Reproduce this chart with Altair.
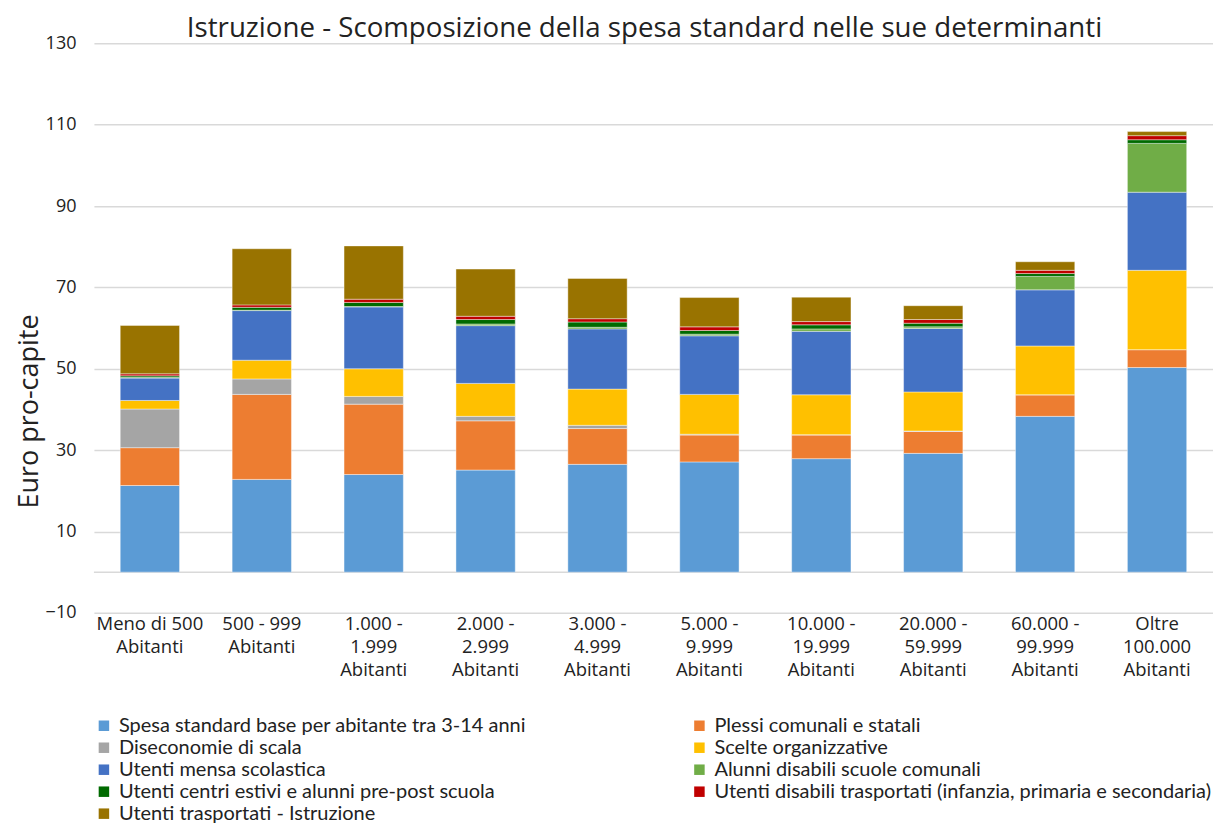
import altair as alt
import pandas as pd

categories = [
    "Meno di 500\nAbitanti", "500 - 999\nAbitanti", "1.000 -\n1.999\nAbitanti",
    "2.000 -\n2.999\nAbitanti", "3.000 -\n4.999\nAbitanti", "5.000 -\n9.999\nAbitanti",
    "10.000 -\n19.999\nAbitanti", "20.000 -\n59.999\nAbitanti", "60.000 -\n99.999\nAbitanti",
    "Oltre\n100.000\nAbitanti",
]

series_names = [
    "Spesa standard base per abitante tra 3-14 anni",
    "Plessi comunali e statali",
    "Diseconomie di scala",
    "Scelte organizzative",
    "Utenti mensa scolastica",
    "Alunni disabili scuole comunali",
    "Utenti centri estivi e alunni pre-post scuola",
    "Utenti disabili trasportati (infanzia, primaria e secondaria)",
    "Utenti trasportati - Istruzione",
]

colors = ["#5B9BD5", "#ED7D31", "#A5A5A5", "#FFC000", "#4472C4",
          "#70AD47", "#006A00", "#C00000", "#997300"]

base = [21.3, 22.8, 24.0, 25.1, 26.5, 27.1, 27.9, 29.2, 38.3, 50.3]
plessi = [9.3, 20.9, 17.3, 12.1, 8.8, 6.6, 5.8, 5.4, 5.3, 4.4]
diseconomie = [9.5, 3.8, 1.9, 1.1, 0.8, 0.2, 0.1, 0.1, 0.0, 0.0]
scelte = [2.1, 4.6, 6.8, 8.1, 8.9, 9.8, 9.8, 9.6, 12.0, 19.5]
mensa = [5.5, 12.2, 15.2, 14.2, 14.8, 14.4, 15.6, 15.6, 13.8, 19.2]
alunni_disabili = [0.15, 0.1, 0.1, 0.4, 0.4, 0.4, 0.6, 0.4, 3.3, 12.0]
centri_estivi = [0.4, 0.7, 1.0, 1.1, 1.3, 0.9, 1.0, 0.9, 0.7, 0.9]
disabili_trasportati = [0.5, 0.6, 0.8, 0.8, 0.8, 0.9, 0.8, 0.9, 0.8, 1.0]
trasportati = [11.9, 13.8, 13.1, 11.6, 9.9, 7.2, 6.0, 3.4, 2.1, 1.0]

y_ticks = [-10, 10, 30, 50, 70, 90, 110, 130]
zero_line = [0]

all_series = [base, plessi, diseconomie, scelte, mensa, alunni_disabili,
              centri_estivi, disabili_trasportati, trasportati]

rows = []
for si, (name, vals) in enumerate(zip(series_names, all_series)):
    for cat, v in zip(categories, vals):
        rows.append({"cat": cat, "serie": name, "val": v, "ord": si})
df = pd.DataFrame(rows)

# legend is filled column by column: order entries so that it reads row by row
legend_order = series_names[0::2] + series_names[1::2]
legend_colors = colors[0::2] + colors[1::2]

FONT = "Open Sans"

bars = alt.Chart(df).mark_bar(stroke="white", strokeWidth=0.6, strokeOpacity=0.7).encode(
    x=alt.X("cat:N", sort=categories,
            scale=alt.Scale(paddingInner=0.47, paddingOuter=0.235),
            axis=alt.Axis(title=None, labelAngle=0, ticks=False, domain=False,
                          labelExpr="split(datum.label, '\\n')",
                          labelFontSize=18.5, labelLineHeight=23, labelPadding=2,
                          labelBaseline="top", labelColor="#222222", labelFont=FONT)),
    y=alt.Y("val:Q", stack="zero",
            scale=alt.Scale(domain=[-10, 130], nice=False, zero=False),
            axis=alt.Axis(title="Euro pro-capite", values=y_ticks, ticks=False, domain=False,
                          gridColor="#D9D9D9", gridWidth=1.5,
                          labelFontSize=18, labelPadding=18, labelColor="#222222",
                          labelFont=FONT, titleFont=FONT, titleFontSize=27,
                          titleFontWeight="normal", titleColor="#222222",
                          titleX=-64, titleY=368, titleBaseline="middle", titleAlign="center")),
    color=alt.Color("serie:N",
                    scale=alt.Scale(domain=legend_order, range=legend_colors),
                    legend=alt.Legend(orient="none", legendX=0, legendY=673, columns=2,
                                      title=None, symbolType="square", symbolSize=110,
                                      symbolStrokeWidth=0, labelFontSize=20, labelFont="Lato",
                                      labelColor="#222222", rowPadding=2, columnPadding=163,
                                      labelLimit=700, labelOffset=5)),
    order=alt.Order("ord:Q", sort="ascending"),
)

zero = alt.Chart(pd.DataFrame({"y": zero_line})).mark_rule(color="#D9D9D9", strokeWidth=1.5).encode(
    y=alt.Y("y:Q")
)

chart = alt.layer(zero, bars).properties(
    width=1120, height=570,
    title=alt.TitleParams("Istruzione - Scomposizione della spesa standard nelle sue determinanti",
                          font=FONT, fontSize=27.7, fontWeight="normal", color="#222222",
                          anchor="middle", offset=4, dy=12, dx=-9),
    autosize=alt.AutoSizeParams(type="none"),
    padding={"left": 86, "top": 35, "right": 0, "bottom": 210},
).configure_view(stroke=None)

chart.save("out.html", embed_options={"renderer": "svg", "actions": False})
